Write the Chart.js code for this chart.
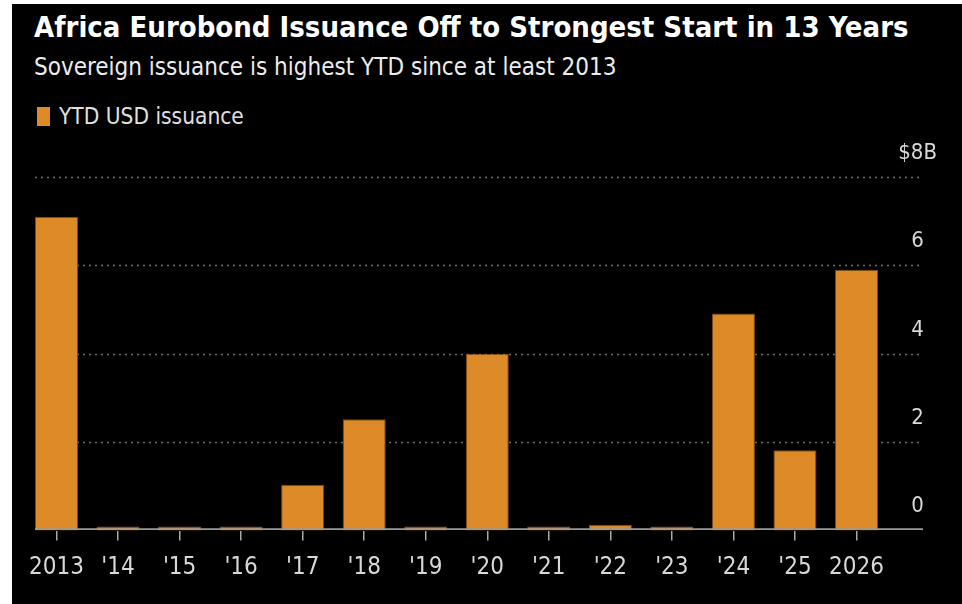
<!DOCTYPE html>
<html><head><meta charset="utf-8">
<script src="https://cdn.jsdelivr.net/npm/chart.js@4.4.1/dist/chart.umd.min.js"></script>
<style>
html,body{margin:0;padding:0;background:#fff;width:962px;height:604px;overflow:hidden;}
#frame{position:absolute;left:12px;top:4px;width:950px;height:600px;background:#000;overflow:hidden;}
.t{position:absolute;white-space:nowrap;font-family:'DejaVu Sans Condensed','Liberation Sans Narrow',sans-serif;line-height:1;}
#title{left:22px;top:9px;font-size:29px;font-weight:bold;color:#fff;}
#subtitle{left:22px;top:51px;font-size:24px;color:#ececec;}
#legbox{position:absolute;left:25px;top:103px;width:13px;height:19px;background:#DD8A28;}
#legtext{left:47px;top:101px;font-size:22.5px;color:#e0e0e0;}
canvas{position:absolute;left:0;top:0;}
</style></head>
<body>
<div id="frame">
  <div class="t" id="title">Africa Eurobond Issuance Off to Strongest Start in 13 Years</div>
  <div class="t" id="subtitle">Sovereign issuance is highest YTD since at least 2013</div>
  <div id="legbox"></div><div class="t" id="legtext">YTD USD issuance</div>
  <canvas id="c" width="950" height="600"></canvas>
</div>
<script>
const categories = ['2013', "'14", "'15", "'16", "'17", "'18", "'19", "'20", "'21", "'22", "'23", "'24", "'25", '2026'];
const issuance = [7.1, 0, 0, 0, 1.04, 2.52, 0, 4.0, 0, 0.13, 0, 4.91, 1.82, 5.9];
const yTicks = [0, 2, 4, 6, 8];
const seriesLabel = 'YTD USD issuance';

const FONT = "'DejaVu Sans Condensed','Liberation Sans Narrow',sans-serif";
Chart.defaults.font.family = FONT;

const gridPlugin = {
  id: 'bbgGrid',
  beforeDatasetsDraw(chart) {
    const ctx = chart.ctx, y = chart.scales.y;
    ctx.save();
    ctx.strokeStyle = '#6e6e6e';
    ctx.lineWidth = 1.5;
    ctx.setLineDash([2, 4]);
    y.ticks.forEach(t => {
      if (t.value === 0) return;
      const py = Math.round(y.getPixelForValue(t.value)) + 0.5;
      ctx.beginPath(); ctx.moveTo(23, py); ctx.lineTo(907, py); ctx.stroke();
    });
    ctx.restore();
  },
  afterDatasetsDraw(chart) {
    const ctx = chart.ctx, y = chart.scales.y;
    const py = y.getPixelForValue(0) - 1.5;
    ctx.save();
    ctx.strokeStyle = '#9a9a9a';
    ctx.lineWidth = 1.6;
    ctx.beginPath(); ctx.moveTo(23, py); ctx.lineTo(911, py); ctx.stroke();
    ctx.restore();
  }
};

new Chart(document.getElementById('c'), {
  type: 'bar',
  data: {
    labels: categories,
    datasets: [{
      label: seriesLabel,
      data: issuance,
      backgroundColor: '#DD8A28',
      borderColor: '#7a4a12',
      borderWidth: 1,
      minBarLength: 4,
      barPercentage: 0.7,
      categoryPercentage: 1.0
    }]
  },
  options: {
    responsive: false,
    animation: false,
    devicePixelRatio: 1,
    layout: { padding: { top: 173, left: 13.75, right: 0, bottom: 0 } },
    plugins: { legend: { display: false }, title: { display: false }, tooltip: { enabled: false } },
    scales: {
      x: {
        offset: true,
        grid: { display: true, offset: false, drawOnChartArea: false, drawTicks: true, tickLength: 10, color: '#aaaaaa', tickColor: '#aaaaaa', tickWidth: 1.5, lineWidth: 1.5 },
        border: { display: false },
        ticks: { color: '#d8d8d8', font: { size: 24 }, padding: 13, maxRotation: 0, autoSkip: false },
        afterFit(s) { s.height = 73.4; }
      },
      y: {
        position: 'right',
        min: 0, max: 8,
        afterBuildTicks(s) { s.ticks = yTicks.map(v => ({ value: v })); },
        grid: { display: false, drawTicks: false },
        border: { display: false },
        ticks: {
          color: '#d8d8d8', font: { size: 22 }, labelOffset: -24, crossAlign: 'center', padding: 11,
          callback: v => (v === 8 ? '$8B' : String(v))
        },
        afterFit(s) { s.width = 74.75; }
      }
    }
  },
  plugins: [gridPlugin]
});
</script>
</body></html>
